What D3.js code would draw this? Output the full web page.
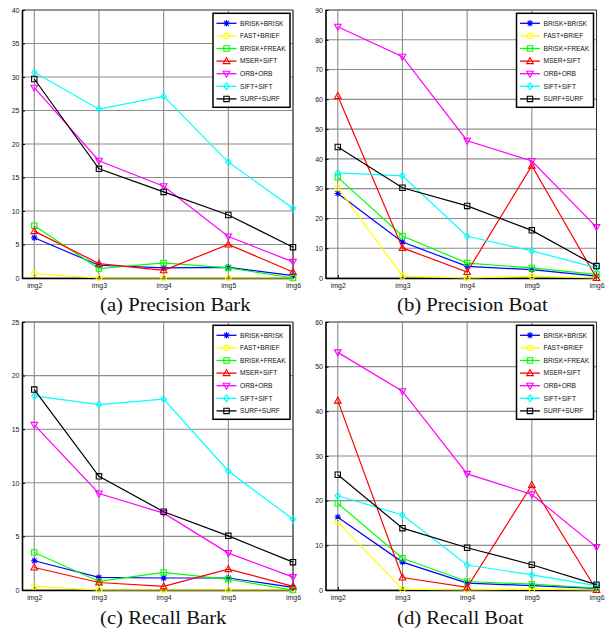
<!DOCTYPE html>
<html>
<head>
<meta charset="utf-8">
<script src="https://cdn.jsdelivr.net/npm/d3@7"></script>
<style>
body { margin: 0; background: #fff; }
svg { display: block; }
</style>
</head>
<body>
<svg width="605" height="630"></svg>
<script>
// Categorias y metodos
const categories = ['img2', 'img3', 'img4', 'img5', 'img6'];
const methods = ['BRISK+BRISK', 'FAST+BRIEF', 'BRISK+FREAK', 'MSER+SIFT', 'ORB+ORB', 'SIFT+SIFT', 'SURF+SURF'];

// Valores (una fila por metodo)
const precisionBark = [
    [6.0, 1.9, 1.5, 1.6, 0.35],
    [0.65, 0, 0, 0, 0],
    [7.8, 1.4, 2.25, 1.5, 0],
    [7.0, 2.15, 1.15, 5.0, 0.9],
    [28.4, 17.5, 13.7, 6.2, 2.4],
    [30.7, 25.2, 27.1, 17.3, 10.4],
    [29.7, 16.3, 12.85, 9.4, 4.6]
];
const precisionBoat = [
    [28.4, 12.1, 3.9, 2.8, 0.6],
    [30.3, 0.6, 0, 0.6, 0],
    [33.8, 14.1, 5.0, 3.4, 1.2],
    [61.1, 10.1, 2.0, 37.7, 0],
    [84.4, 74.3, 46.1, 39.3, 17.1],
    [35.3, 34.3, 14.0, 9.1, 3.4],
    [44.0, 30.3, 24.2, 16.0, 4.0]
];
const recallBark = [
    [2.73, 1.18, 1.12, 1.12, 0.25],
    [0.34, 0, 0, 0, 0],
    [3.5, 0.8, 1.64, 1.0, 0],
    [2.1, 0.7, 0.34, 1.95, 0.34],
    [15.4, 9.0, 7.17, 3.44, 1.2],
    [18.1, 17.3, 17.8, 11.1, 6.6],
    [18.7, 10.6, 7.3, 5.05, 2.6]
];
const recallBoat = [
    [16.3, 6.25, 1.56, 0.97, 0.37],
    [15.2, 0.2, 0, 0.2, 0],
    [19.4, 7.1, 1.9, 1.3, 0.45],
    [42.4, 2.8, 0.6, 23.5, 0],
    [53.2, 44.5, 26.0, 21.4, 9.6],
    [21.1, 16.8, 5.6, 3.4, 0.97],
    [25.8, 13.85, 9.46, 5.66, 1.2]
];

// Estilos de cada serie
const colors = ['#0000ff', '#ffff00', '#00ff00', '#ff0000', '#ff00ff', '#00ffff', '#000000'];
const shapes = ['star', 'circle', 'square', 'triUp', 'triDown', 'diamond', 'square'];

const panels = [
    { title: '(a) Precision Bark', data: precisionBark, max: 40, step: 5, left: 22, top: 10, tx: 100, ty: 311 },
    { title: '(b) Precision Boat', data: precisionBoat, max: 90, step: 10, left: 325.5, top: 10, tx: 397, ty: 311 },
    { title: '(c) Recall Bark', data: recallBark, max: 25, step: 5, left: 22, top: 322, tx: 100, ty: 624 },
    { title: '(d) Recall Boat', data: recallBoat, max: 60, step: 10, left: 325.5, top: 322, tx: 397, ty: 624 }
];

const plotW = 271;
const plotH = 268;
const svg = d3.select('svg');

// Forma del marcador centrada en (0,0)
function markerPath(shape) {
    const p = d3.path();
    if (shape === 'star') {
        const r = 3.2;
        const d = r * 0.72;
        p.moveTo(-r, 0); p.lineTo(r, 0);
        p.moveTo(0, -r); p.lineTo(0, r);
        p.moveTo(-d, -d); p.lineTo(d, d);
        p.moveTo(-d, d); p.lineTo(d, -d);
    } else if (shape === 'circle') {
        p.arc(0, 0, 2.8, 0, 2 * Math.PI);
    } else if (shape === 'square') {
        p.rect(-2.7, -2.7, 5.4, 5.4);
    } else if (shape === 'triUp') {
        p.moveTo(0, -3.5); p.lineTo(3.3, 2.5); p.lineTo(-3.3, 2.5); p.closePath();
    } else if (shape === 'triDown') {
        p.moveTo(0, 3.5); p.lineTo(3.3, -2.5); p.lineTo(-3.3, -2.5); p.closePath();
    } else if (shape === 'diamond') {
        p.moveTo(0, -3.5); p.lineTo(2.6, 0); p.lineTo(0, 3.5); p.lineTo(-2.6, 0); p.closePath();
    }
    return p.toString();
}

panels.forEach(panel => {
    const x = d3.scaleLinear()
        .domain([-0.19, categories.length - 1])
        .range([panel.left, panel.left + plotW]);
    const y = d3.scaleLinear()
        .domain([0, panel.max])
        .range([panel.top + plotH, panel.top]);
    const yTicks = d3.range(0, panel.max + panel.step / 2, panel.step);

    const g = svg.append('g');

    // Rejilla
    g.append('g')
        .selectAll('line')
        .data(yTicks)
        .enter().append('line')
        .attr('x1', panel.left).attr('x2', panel.left + plotW)
        .attr('y1', d => y(d)).attr('y2', d => y(d))
        .attr('stroke', '#8c8c8c')
        .attr('stroke-width', 1.1);
    g.append('g')
        .selectAll('line')
        .data(categories)
        .enter().append('line')
        .attr('x1', (d, i) => x(i)).attr('x2', (d, i) => x(i))
        .attr('y1', y(0)).attr('y2', y(panel.max))
        .attr('stroke', '#8c8c8c')
        .attr('stroke-width', 1.1);

    // Caja superior y derecha
    g.append('line')
        .attr('x1', panel.left).attr('x2', panel.left + plotW)
        .attr('y1', panel.top).attr('y2', panel.top)
        .attr('stroke', '#666').attr('stroke-width', 1);
    g.append('line')
        .attr('x1', panel.left + plotW).attr('x2', panel.left + plotW)
        .attr('y1', panel.top).attr('y2', panel.top + plotH)
        .attr('stroke', '#333').attr('stroke-width', 1);

    // Ejes
    const yAxis = g.append('g')
        .attr('transform', `translate(${panel.left},0)`)
        .call(d3.axisLeft(y).tickValues(yTicks).tickSize(-3).tickSizeOuter(0).tickPadding(2.5));
    const xAxis = g.append('g')
        .attr('transform', `translate(0,${panel.top + plotH})`)
        .call(d3.axisBottom(x).tickValues(d3.range(categories.length))
            .tickFormat(i => categories[i]).tickSize(-3).tickSizeOuter(0).tickPadding(5));
    [yAxis, xAxis].forEach(ax => {
        ax.select('.domain').attr('stroke', '#000').attr('stroke-width', 1.6);
        ax.selectAll('.tick line').attr('stroke', '#000');
        ax.selectAll('text')
            .attr('font-family', 'Liberation Sans, Arial, sans-serif')
            .attr('font-size', 7)
            .attr('fill', '#222');
    });

    // Lineas y marcadores
    const line = d3.line()
        .x((d, i) => x(i))
        .y(d => y(d));

    panel.data.forEach((values, s) => {
        const serie = g.append('g');
        serie.append('path')
            .datum(values)
            .attr('d', line)
            .attr('fill', 'none')
            .attr('stroke', colors[s])
            .attr('stroke-width', 1.2);
        serie.selectAll('path.mk')
            .data(values)
            .enter().append('path')
            .attr('class', 'mk')
            .attr('d', markerPath(shapes[s]))
            .attr('transform', (d, i) => `translate(${x(i)},${y(d)})`)
            .attr('fill', 'none')
            .attr('stroke', colors[s])
            .attr('stroke-width', 1.1);
    });

    // Leyenda
    const lx = panel.left + plotW - 3 - 77;
    const ly = panel.top + 3.3;
    const legend = g.append('g').attr('transform', `translate(${lx},${ly})`);
    legend.append('rect')
        .attr('width', 77).attr('height', 94)
        .attr('fill', '#fff')
        .attr('stroke', '#000')
        .attr('stroke-width', 1.5);
    const items = legend.selectAll('g')
        .data(methods)
        .enter().append('g')
        .attr('transform', (d, i) => `translate(0,${10 + i * 12.6})`);
    items.append('line')
        .attr('x1', 3.5).attr('x2', 23.5)
        .attr('stroke', (d, i) => colors[i])
        .attr('stroke-width', 1.3);
    items.append('path')
        .attr('d', (d, i) => markerPath(shapes[i]))
        .attr('transform', 'translate(13.5,0)')
        .attr('fill', 'none')
        .attr('stroke', (d, i) => colors[i])
        .attr('stroke-width', 1.1);
    items.append('text')
        .attr('x', 27)
        .attr('dy', '0.35em')
        .attr('font-family', 'Liberation Sans, Arial, sans-serif')
        .attr('font-size', 6.6)
        .attr('fill', '#111')
        .text(d => d);

    // Titulo del panel
    svg.append('text')
        .attr('transform', `translate(${panel.tx},${panel.ty}) scale(1.12,1)`)
        .attr('font-family', 'Liberation Serif, Times New Roman, serif')
        .attr('font-size', 18.5)
        .attr('fill', '#111')
        .text(panel.title);
});
</script>
</body>
</html>
